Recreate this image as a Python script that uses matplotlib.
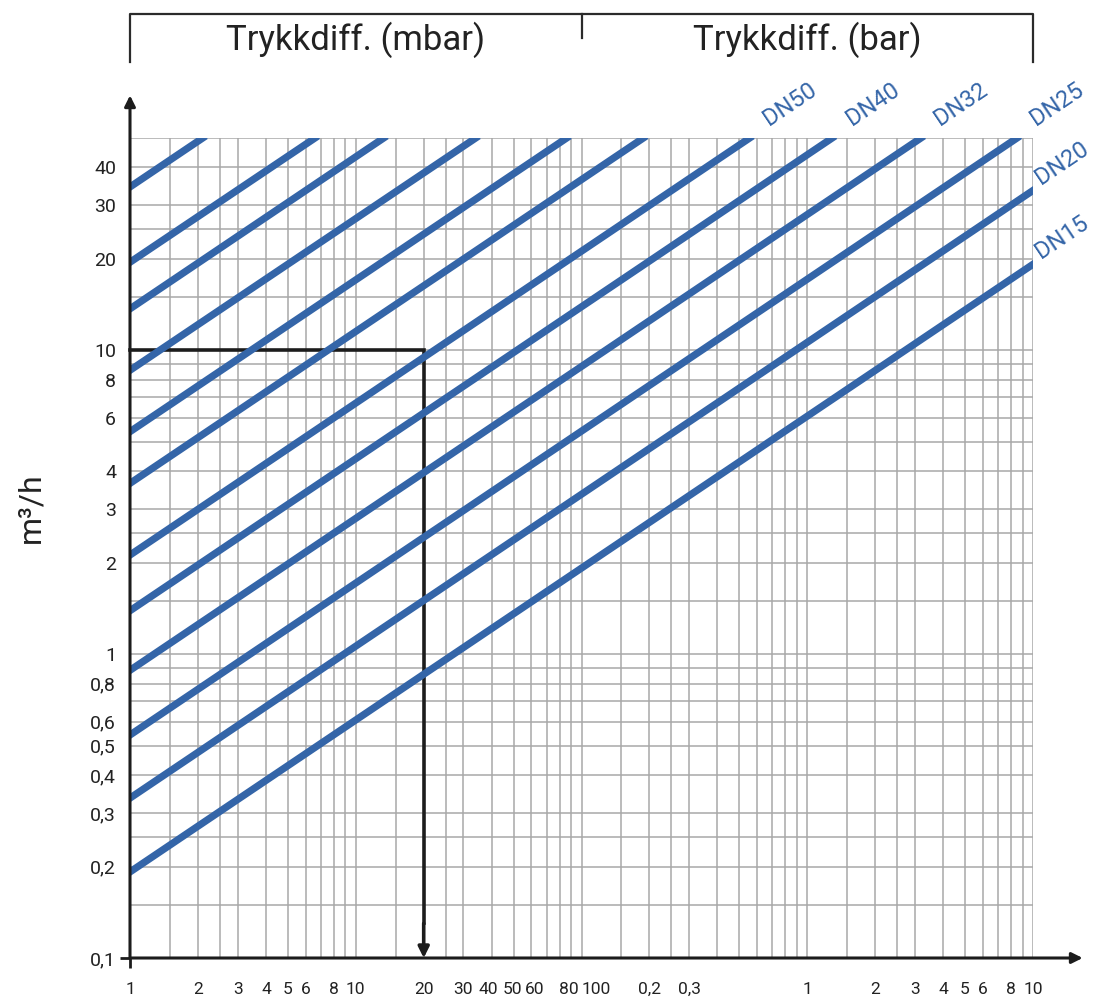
import matplotlib
matplotlib.use('Agg')
import matplotlib.pyplot as plt
import matplotlib.transforms as mtransforms
from matplotlib.ticker import NullFormatter
import numpy as np

plt.rcParams['font.family'] = ['Roboto', 'DejaVu Sans']

# pressure drop lines (dp in mbar, flow in m3/h)
start_dp = 1
start_flow = [34.5, 19.5, 13.7, 8.6, 5.4, 3.65, 2.12, 1.39, 0.885, 0.542, 0.336, 0.192]
end_dp = [2.1, 6.6, 13.3, 34, 86, 188, 556, 1290, 3190, 8500, 10000, 10000]
end_flow = [50, 50, 50, 50, 50, 50, 50, 50, 50, 50, 33.6, 19.2]
dn_labels = ['', '', '', '', '', '', 'DN50', 'DN40', 'DN32', 'DN25', 'DN20', 'DN15']

# example reading
ref_dp = 20
ref_flow = 10

xtick_vals = [1, 2, 3, 4, 5, 6, 8, 10, 20, 30, 40, 50, 60, 80, 100, 200, 300,
              1000, 2000, 3000, 4000, 5000, 6000, 8000, 10000]
xtick_text = ['1', '2', '3', '4', '5', '6', '8', '10', '20', '30', '40', '50', '60', '80', '100',
              '0,2', '0,3', '1', '2', '3', '4', '5', '6', '8', '10']
ytick_vals = [0.1, 0.2, 0.3, 0.4, 0.5, 0.6, 0.8, 1, 2, 3, 4, 6, 8, 10, 20, 30, 40]
ytick_text = ['0,1', '0,2', '0,3', '0,4', '0,5', '0,6', '0,8', '1', '2', '3', '4', '6', '8',
              '10', '20', '30', '40']

grid_steps = [1, 1.5, 2, 2.5, 3, 4, 5, 6, 7, 8, 9]
x_grid = [s * 10 ** k for k in range(4) for s in grid_steps] + [10000]
y_grid = [s * 10.0 ** k for k in range(-1, 2) for s in grid_steps if s * 10.0 ** k <= 50]

BLUE = '#3465a8'
DARK = '#1c1c1c'
GRID = '#a8a8a8'

W, H = 1093, 999
fig = plt.figure(figsize=(W / 100, H / 100), dpi=100)
ax = fig.add_axes([130 / W, 41 / H, 903 / W, 820 / H])
ax.set_xscale('log')
ax.set_yscale('log')

for q0, xe, qe in zip(start_flow, end_dp, end_flow):
    ax.plot([start_dp, xe], [q0, qe], color=BLUE, lw=5.2, solid_capstyle='projecting', zorder=4)

# example reading: 10 m3/h -> 20 mbar
ax.plot([start_dp, ref_dp, ref_dp], [ref_flow, ref_flow, 0.13], color=DARK, lw=2.6,
        solid_joinstyle='miter', zorder=3, clip_on=False)
ax.annotate('', xy=(ref_dp, 0.1), xytext=(ref_dp, 0.13),
            arrowprops=dict(arrowstyle='-|>', color=DARK, lw=2.6, mutation_scale=16,
                            shrinkA=0, shrinkB=0), zorder=3)

ax.set_xlim(1, 10000)
ax.set_ylim(0.1, 50)

ax.set_xticks(x_grid, minor=True)
ax.set_yticks(y_grid, minor=True)
ax.xaxis.set_minor_formatter(NullFormatter())
ax.yaxis.set_minor_formatter(NullFormatter())
ax.set_xticks(xtick_vals)
ax.set_xticklabels(xtick_text, fontsize=12.5)
ax.set_yticks(ytick_vals)
ax.set_yticklabels(ytick_text, fontsize=14)
ax.tick_params(which='minor', length=0)
ax.tick_params(which='major', length=7, width=2, color=DARK, labelcolor='#222222')
ax.tick_params(axis='x', pad=10)
ax.tick_params(axis='y', pad=3)
for t in ax.xaxis.get_major_ticks()[1:]:
    t.tick1line.set_visible(False)
for t in ax.yaxis.get_major_ticks()[1:]:
    t.tick1line.set_visible(False)
ax.grid(True, which='both', color=GRID, lw=1.1, zorder=0)
ax.set_axisbelow(True)
for s in ax.spines.values():
    s.set_visible(False)

# crowded labels near 100 mbar sit a little right of their grid lines
nudge = {'40': -3, '50': -1, '60': 3, '80': 9, '100': 15}
for lab in ax.get_xticklabels():
    dx = nudge.get(lab.get_text(), 0)
    if dx:
        lab.set_transform(lab.get_transform() + mtransforms.ScaledTranslation(dx / 100, 0, fig.dpi_scale_trans))

# axis arrows
for tip in [(1.055, 0), (0, 1.052)]:
    ax.annotate('', xy=tip, xytext=(0, 0), xycoords='axes fraction',
                arrowprops=dict(arrowstyle='-|>', color=DARK, lw=2.2, mutation_scale=16,
                                shrinkA=0, shrinkB=0), annotation_clip=False, zorder=5)

ax.set_ylabel('m³/h', fontsize=23, color='#222222')
ax.yaxis.set_label_coords(-0.094, 0.549)

# DN labels along the lines
fig.canvas.draw()
p0 = ax.transData.transform((start_dp, start_flow[-1]))
p1 = ax.transData.transform((end_dp[-1], end_flow[-1]))
angle = np.degrees(np.arctan2(p1[1] - p0[1], p1[0] - p0[0]))
for lab, xe, qe in zip(dn_labels, end_dp, end_flow):
    if not lab:
        continue
    off = (16, 6) if qe >= 50 else (8, 1)
    ax.annotate(lab, xy=(xe, qe), xytext=off, textcoords='offset points', rotation=angle,
                rotation_mode='anchor', ha='left', va='bottom', color=BLUE, fontsize=17,
                annotation_clip=False)

# header bracket
hdr = mtransforms.blended_transform_factory(ax.transData, fig.transFigure)
y_top = 1 - 14 / H
y_end = 1 - 62 / H
y_mid = 1 - 38 / H
ax.plot([1, 1, 10000, 10000], [y_end, y_top, y_top, y_end], transform=hdr, clip_on=False,
        color='#2b2b2b', lw=1.6)
ax.plot([100, 100], [y_top, y_mid], transform=hdr, clip_on=False, color='#2b2b2b', lw=1.6)
ax.text(10, 1 - 40 / H, 'Trykkdiff. (mbar)', transform=hdr, ha='center', va='center',
        fontsize=25, color='#222222')
ax.text(1000, 1 - 40 / H, 'Trykkdiff. (bar)', transform=hdr, ha='center', va='center',
        fontsize=25, color='#222222')

ax.set_xlim(1, 10000)
ax.set_ylim(0.1, 50)
fig.savefig('out.png', dpi=100)
